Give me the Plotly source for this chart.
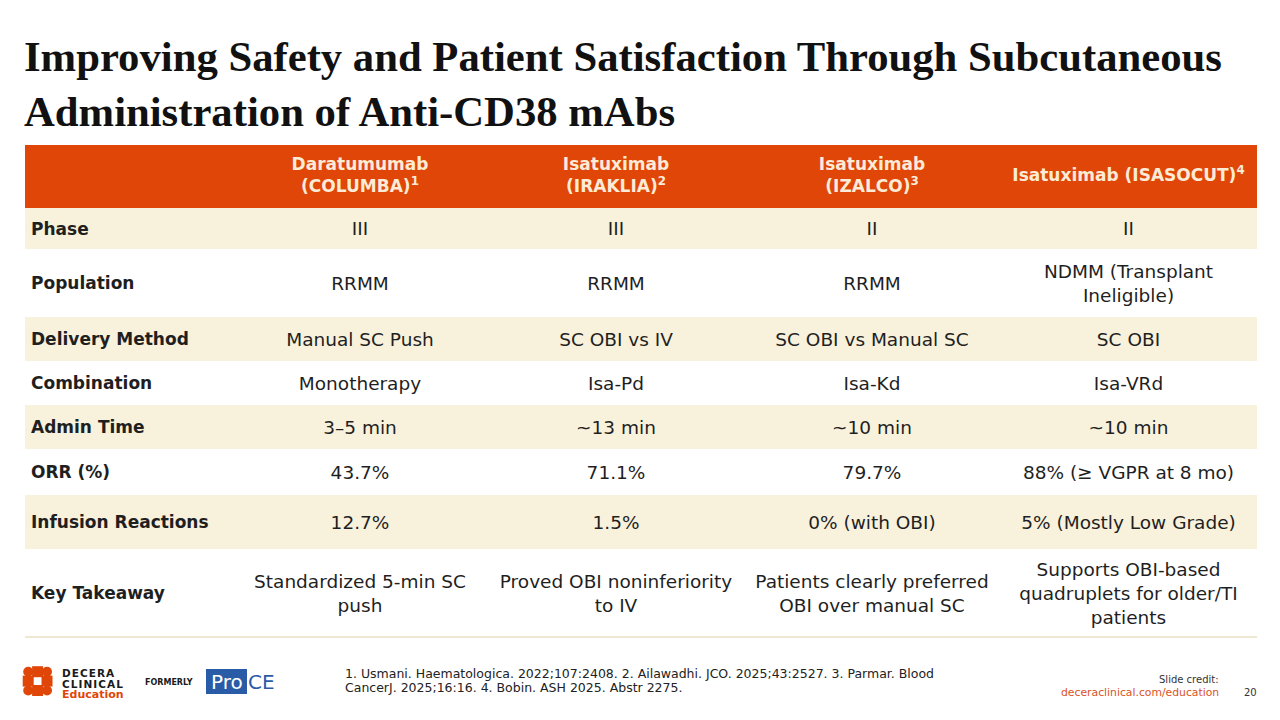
import plotly.graph_objects as go

# ---------------- data ----------------
title_lines = [
    "Improving Safety and Patient Satisfaction Through Subcutaneous",
    "Administration of Anti-CD38 mAbs",
]
headers = [
    "Daratumumab<br>(COLUMBA)<sup>1</sup>",
    "Isatuximab<br>(IRAKLIA)<sup>2</sup>",
    "Isatuximab<br>(IZALCO)<sup>3</sup>",
    "Isatuximab (ISASOCUT)<sup>4</sup>",
]
row_labels = ["Phase", "Population", "Delivery Method", "Combination",
              "Admin Time", "ORR (%)", "Infusion Reactions", "Key Takeaway"]
columba = ["III", "RRMM", "Manual SC Push", "Monotherapy", "3–5 min", "43.7%", "12.7%",
           "Standardized 5-min SC<br>push"]
iraklia = ["III", "RRMM", "SC OBI vs IV", "Isa-Pd", "~13 min", "71.1%", "1.5%",
           "Proved OBI noninferiority<br>to IV"]
izalco = ["II", "RRMM", "SC OBI vs Manual SC", "Isa-Kd", "~10 min", "79.7%", "0% (with OBI)",
          "Patients clearly preferred<br>OBI over manual SC"]
isasocut = ["II", "NDMM (Transplant<br>Ineligible)", "SC OBI", "Isa-VRd", "~10 min",
            "88% (≥ VGPR at 8 mo)", "5% (Mostly Low Grade)",
            "Supports OBI-based<br>quadruplets for older/TI<br>patients"]
columns = [columba, iraklia, izalco, isasocut]
footnote_lines = [
    "1. Usmani. Haematologica. 2022;107:2408. 2. Ailawadhi. JCO. 2025;43:2527. 3. Parmar. Blood",
    "CancerJ. 2025;16:16. 4. Bobin. ASH 2025. Abstr 2275.",
]
credit_label = "Slide credit:"
credit_url = "deceraclinical.com/education"
page_number = "20"
logo_words = ["DECERA", "CLINICAL", "Education"]
formerly_label = "FORMERLY"
proce_parts = ["Pro", "CE"]

# ---------------- layout geometry / styles ----------------
W, H = 1280, 720
OFF = 8  # page body margin compensation
col_edges = [25, 232, 488, 744, 1000, 1257]
header_top, header_bottom = 145, 208
row_edges = [208, 249, 317, 361, 405, 449, 495, 549, 637]
TEXT_DY = 2
ORANGE = "#DF4607"
CREAM = "#F8F1DC"
HEAD_TXT = "#FCEBD6"
TXT = "#1f1f1f"
BLUE = "#2A5BA6"
FONT = "DejaVu Sans"
HAIR = "\u200a"

shapes = []
shapes.append(dict(type="rect", xref="x", yref="y", x0=col_edges[0], x1=col_edges[-1],
                   y0=header_top, y1=header_bottom, fillcolor=ORANGE, line_width=0, layer="below"))
for i in range(len(row_labels)):
    if i % 2 == 0:
        shapes.append(dict(type="rect", xref="x", yref="y", x0=col_edges[0], x1=col_edges[-1],
                           y0=row_edges[i], y1=row_edges[i + 1], fillcolor=CREAM,
                           line_width=0, layer="below"))
shapes.append(dict(type="line", xref="x", yref="y", x0=col_edges[0], x1=col_edges[-1],
                   y0=row_edges[-1], y1=row_edges[-1], line=dict(color="#EDE7D3", width=2)))

# Decera icon
ix0, iy0, c = 23.5, 667, 9.4
for (r, cc) in [(0, 0), (0, 2), (2, 0), (2, 2)]:
    shapes.append(dict(type="circle", xref="x", yref="y",
                       x0=ix0 + cc * c - 0.3, x1=ix0 + (cc + 1) * c + 0.3,
                       y0=iy0 + r * c - 0.3, y1=iy0 + (r + 1) * c + 0.3,
                       fillcolor=ORANGE, line_width=0))
for (r, cc) in [(0, 1), (1, 0), (1, 2), (2, 1)]:
    shapes.append(dict(type="rect", xref="x", yref="y",
                       x0=ix0 + cc * c - 0.8, x1=ix0 + (cc + 1) * c + 0.8,
                       y0=iy0 + r * c - 0.8, y1=iy0 + (r + 1) * c + 0.8,
                       fillcolor=ORANGE, line_width=0))
shapes.append(dict(type="rect", xref="x", yref="y", x0=206, x1=247, y0=669, y1=694,
                   fillcolor=BLUE, line_width=0))

fig = go.Figure()

centers = [(col_edges[j + 1] + col_edges[j + 2]) / 2 for j in range(4)]
hy = (header_top + header_bottom) / 2
fig.add_trace(go.Scatter(
    x=centers, y=[hy] * 4, mode="text", text=headers, textposition="middle center",
    textfont=dict(family=FONT, size=17, color=HEAD_TXT, weight="bold"), hoverinfo="skip"))

row_centers = [(row_edges[i] + row_edges[i + 1]) / 2 + TEXT_DY for i in range(len(row_labels))]
fig.add_trace(go.Scatter(
    x=[col_edges[0] + 6] * len(row_labels), y=row_centers, mode="text", text=row_labels,
    textposition="middle right",
    textfont=dict(family=FONT, size=17, color=TXT, weight="bold"), hoverinfo="skip"))
for j, col in enumerate(columns):
    fig.add_trace(go.Scatter(
        x=[centers[j]] * len(col), y=row_centers, mode="text", text=col,
        textposition="middle center",
        textfont=dict(family=FONT, size=18.5, color=TXT), hoverinfo="skip"))

annotations = []
for line, yc in zip(title_lines, [56, 111]):
    annotations.append(dict(x=22, y=yc, xref="x", yref="y", text="<b>" + line + "</b>",
                            showarrow=False, xanchor="left", yanchor="middle",
                            font=dict(family="Liberation Serif", size=42.7, color="#111111")))
for line, yc in zip(footnote_lines, [673, 687]):
    annotations.append(dict(x=343, y=yc, xref="x", yref="y", text=line, showarrow=False,
                            xanchor="left", yanchor="middle",
                            font=dict(family=FONT, size=12.5, color="#222222")))
annotations.append(dict(x=1221, y=679, xref="x", yref="y", text=credit_label, showarrow=False,
                        xanchor="right", yanchor="middle",
                        font=dict(family=FONT, size=10, color="#333333")))
annotations.append(dict(x=1221, y=692, xref="x", yref="y", text=credit_url, showarrow=False,
                        xanchor="right", yanchor="middle",
                        font=dict(family=FONT, size=10.8, color="#D9531E")))
annotations.append(dict(x=1250, y=692, xref="x", yref="y", text=page_number, showarrow=False,
                        xanchor="center", yanchor="middle",
                        font=dict(family=FONT, size=10, color="#333333")))
for k, (txt, yc) in enumerate(zip(logo_words, [672.5, 683.5, 694.5])):
    if k < 2:
        shown = "<b>" + HAIR.join(txt) + "</b>"
        f = dict(family=FONT, size=10.5, color="#1a1a1a")
    else:
        shown = "<b>" + txt + "</b>"
        f = dict(family=FONT, size=11, color=ORANGE)
    annotations.append(dict(x=60, y=yc, xref="x", yref="y", text=shown,
                            showarrow=False, xanchor="left", yanchor="middle", font=f))
annotations.append(dict(x=143, y=682, xref="x", yref="y", text="<b>" + formerly_label + "</b>",
                        showarrow=False, xanchor="left", yanchor="middle",
                        font=dict(family=FONT, size=8, color="#1a1a1a")))
annotations.append(dict(x=226.5, y=681.5, xref="x", yref="y", text=proce_parts[0], showarrow=False,
                        xanchor="center", yanchor="middle",
                        font=dict(family=FONT, size=20, color="white")))
annotations.append(dict(x=246, y=681.5, xref="x", yref="y", text=proce_parts[1], showarrow=False,
                        xanchor="left", yanchor="middle",
                        font=dict(family=FONT, size=20, color=BLUE)))

fig.update_layout(
    width=W, height=H, autosize=False,
    margin=dict(l=0, r=0, t=0, b=0),
    paper_bgcolor="white", plot_bgcolor="white",
    showlegend=False,
    xaxis=dict(range=[OFF, W + OFF], visible=False, fixedrange=True),
    yaxis=dict(range=[H + OFF, OFF], visible=False, fixedrange=True),
    shapes=shapes, annotations=annotations,
)
fig.write_html("out.html")
